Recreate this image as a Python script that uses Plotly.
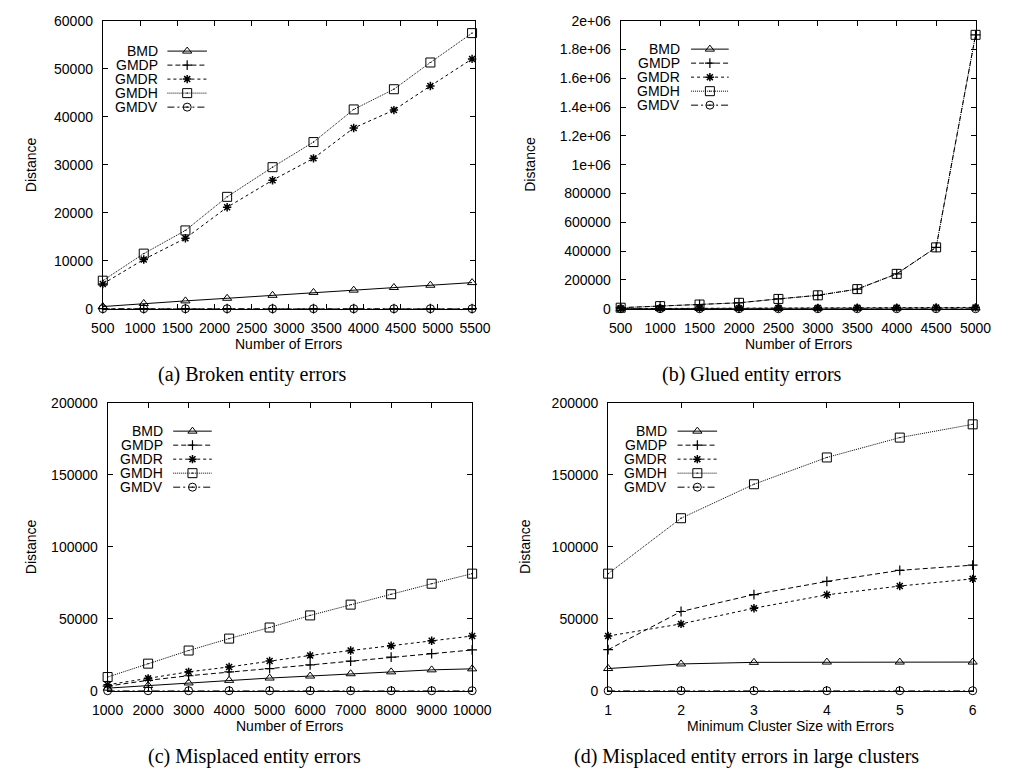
import plotly.graph_objects as go

W, H = 1011, 781

series_names = ["BMD", "GMDP", "GMDR", "GMDH", "GMDV"]

# (a) Broken entity errors
a_x = [500, 1050, 1610, 2170, 2780, 3330, 3870, 4410, 4900, 5460]
a_bmd = [450, 1090, 1630, 2170, 2790, 3400, 3870, 4420, 4890, 5440]
a_gmdp = [0, 0, 0, 0, 0, 0, 0, 0, 0, 0]
a_gmdr = [5160, 10260, 14680, 21130, 26770, 31330, 37640, 41380, 46410, 52050]
a_gmdh = [5840, 11480, 16310, 23310, 29490, 34720, 41520, 45730, 51300, 57420]
a_gmdv = [0, 0, 0, 0, 0, 0, 0, 0, 0, 0]

# (b) Glued entity errors
b_x = [500, 1000, 1500, 2000, 2500, 3000, 3500, 4000, 4500, 5000]
b_bmd = [500, 1000, 1500, 2000, 2500, 3000, 3500, 4000, 4500, 5000]
b_gmdp = [7000, 18000, 29000, 41000, 68000, 93000, 136000, 242000, 426000, 1902000]
b_gmdr = [800, 1700, 2600, 3500, 4500, 5300, 6200, 7300, 8100, 9100]
b_gmdh = [7000, 18000, 29000, 41000, 68000, 93000, 136000, 242000, 426000, 1902000]
b_gmdv = [0, 0, 0, 0, 0, 0, 0, 0, 0, 0]

# (c) Misplaced entity errors
c_x = [1000, 2000, 3000, 4000, 5000, 6000, 7000, 8000, 9000, 10000]
c_bmd = [1800, 3600, 5400, 7200, 8800, 10200, 11800, 13100, 14500, 15200]
c_gmdp = [3200, 7200, 10400, 13100, 15400, 17900, 20600, 23300, 25800, 28300]
c_gmdr = [4100, 8600, 13100, 16500, 20600, 24500, 27900, 31300, 34700, 38000]
c_gmdh = [9500, 18800, 27900, 36200, 43900, 52300, 59800, 67000, 74300, 81300]
c_gmdv = [0, 0, 0, 0, 0, 0, 0, 0, 0, 0]

# (d) Misplaced entity errors in large clusters
d_x = [1, 2, 3, 4, 5, 6]
d_bmd = [15400, 18600, 19700, 19900, 19900, 19900]
d_gmdp = [28500, 55000, 66800, 75900, 83600, 87200]
d_gmdr = [38000, 46400, 57300, 66600, 72700, 77700]
d_gmdh = [81300, 119800, 143400, 162000, 175800, 185000]
d_gmdv = [0, 0, 0, 0, 0, 0]

# tick labels
a_xticks = [500, 1000, 1500, 2000, 2500, 3000, 3500, 4000, 4500, 5000, 5500]
a_yticks = [0, 10000, 20000, 30000, 40000, 50000, 60000]
b_xticks = [500, 1000, 1500, 2000, 2500, 3000, 3500, 4000, 4500, 5000]
b_yticks = [0, 200000, 400000, 600000, 800000, 1000000, 1200000, 1400000,
            1600000, 1800000, 2000000]
b_yticktext = ["0", "200000", "400000", "600000", "800000", "1e+06", "1.2e+06",
               "1.4e+06", "1.6e+06", "1.8e+06", "2e+06"]
c_xticks = [1000, 2000, 3000, 4000, 5000, 6000, 7000, 8000, 9000, 10000]
c_yticks = [0, 50000, 100000, 150000, 200000]
d_xticks = [1, 2, 3, 4, 5, 6]
d_yticks = [0, 50000, 100000, 150000, 200000]

captions = ["(a) Broken entity errors", "(b) Glued entity errors",
            "(c) Misplaced entity errors",
            "(d) Misplaced entity errors in large clusters"]
xtitles = ["Number of Errors", "Number of Errors", "Number of Errors",
           "Minimum Cluster Size with Errors"]

# styles
styles = {
    "BMD": dict(dash="solid", symbol="triangle-up-open", size=8, lw=1),
    "GMDP": dict(dash="5px,3px", symbol="cross-thin-open", size=7, lw=1.2),
    "GMDR": dict(dash="3px,3px", symbol="asterisk-open", size=7, lw=1.5),
    "GMDH": dict(dash="1px,1px", symbol="square-open-dot", size=9, lw=1),
    "GMDV": dict(dash="7px,3px,2px,3px", symbol="circle-open-dot", size=8, lw=1),
}

SANS = "Liberation Sans, Arial, sans-serif"
SERIF = "Liberation Serif, Times New Roman, serif"

# pixel boxes for plot areas: (left, right, top, bottom)
boxes = [(90, 476, 13, 307), (627, 995, 13, 307),
         (95, 473, 403, 697), (614, 992, 403, 697)]


def fx(p):
    return p / W


def fy(p):
    return 1 - p / H


panels = [
    (a_x, [a_bmd, a_gmdp, a_gmdr, a_gmdh, a_gmdv], [500, 5500], [0, 60000],
     a_xticks, None, a_yticks, None),
    (b_x, [b_bmd, b_gmdp, b_gmdr, b_gmdh, b_gmdv], [500, 5000], [0, 2000000],
     b_xticks, None, b_yticks, b_yticktext),
    (c_x, [c_bmd, c_gmdp, c_gmdr, c_gmdh, c_gmdv], [1000, 10000], [0, 200000],
     c_xticks, None, c_yticks, None),
    (d_x, [d_bmd, d_gmdp, d_gmdr, d_gmdh, d_gmdv], [1, 6], [0, 200000],
     d_xticks, None, d_yticks, None),
]

fig = go.Figure()
layout = dict()
annotations = []

for i, (xs, ys_list, xr, yr, xt, xtt, yt, ytt) in enumerate(panels):
    n = i + 1
    xa = "x" if n == 1 else f"x{n}"
    ya = "y" if n == 1 else f"y{n}"
    l, r, t, b = boxes[i]
    for name, ys in zip(series_names, ys_list):
        st = styles[name]
        fig.add_trace(go.Scatter(
            x=xs, y=ys, mode="lines+markers", name=name, showlegend=False,
            xaxis=xa, yaxis=ya, cliponaxis=False,
            line=dict(color="black", width=1, dash=st["dash"]),
            marker=dict(symbol=st["symbol"], size=st["size"], color="black",
                        line=dict(color="black", width=st["lw"])),
        ))
    axcommon = dict(showline=True, linecolor="black", linewidth=1,
                    mirror="allticks", ticks="inside", ticklen=5,
                    tickcolor="black", tickwidth=1, showgrid=False,
                    zeroline=False,
                    tickfont=dict(family=SANS, size=14, color="black"))
    xkey = "xaxis" if n == 1 else f"xaxis{n}"
    ykey = "yaxis" if n == 1 else f"yaxis{n}"
    layout[xkey] = dict(domain=[fx(l), fx(r)], range=xr, anchor=ya,
                        tickmode="array", tickvals=xt,
                        ticktext=xtt if xtt else [str(v) for v in xt],
                        ticklabelstandoff=6, **axcommon)
    layout[ykey] = dict(domain=[fy(b), fy(t)], range=yr, anchor=xa,
                        tickmode="array", tickvals=yt,
                        ticktext=ytt if ytt else [str(v) for v in yt],
                        ticklabelstandoff=6, **axcommon)

    # axis titles
    annotations.append(dict(text=xtitles[i], x=fx((l + r) / 2), y=fy(b + 36),
                            xref="paper", yref="paper", showarrow=False,
                            xanchor="center", yanchor="middle",
                            font=dict(family=SANS, size=14, color="black")))

# y titles and captions
ytitle_x = [15, 533, 15, 528]
ytitle_y = [160, 160, 550, 550]
cap_x = [245, 763, 247, 757]
cap_y = [374, 374, 764, 764]
for i in range(4):
    annotations.append(dict(text="Distance", x=fx(ytitle_x[i]), y=fy(ytitle_y[i]),
                            xref="paper", yref="paper", showarrow=False,
                            textangle=-90, xanchor="center", yanchor="middle",
                            font=dict(family=SANS, size=14, color="black")))
    annotations.append(dict(text=captions[i], x=fx(cap_x[i]), y=fy(cap_y[i]),
                            xref="paper", yref="paper", showarrow=False,
                            xanchor="center", yanchor="middle",
                            font=dict(family=SERIF, size=20, color="black")))

# gnuplot-style keys (text right-aligned, then line sample with marker)
key_text_x = [149, 691, 154, 677]
key_line_x0 = [157, 700, 163, 686]
key_line_x1 = [198, 739, 203, 727]
key_row0 = [44, 42, 432, 432]
key_row_step = 14.3

layout["xaxis5"] = dict(domain=[0, 1], range=[0, W], anchor="y5", visible=False,
                        fixedrange=True)
layout["yaxis5"] = dict(domain=[0, 1], range=[H, 0], anchor="x5", visible=False,
                        fixedrange=True)

for i in range(4):
    for k, name in enumerate(series_names):
        st = styles[name]
        yy = key_row0[i] + k * key_row_step
        annotations.append(dict(text=name, x=fx(key_text_x[i]), y=fy(yy),
                                xref="paper", yref="paper", showarrow=False,
                                xanchor="right", yanchor="middle",
                                font=dict(family=SANS, size=14, color="black")))
        fig.add_trace(go.Scatter(
            x=[key_line_x0[i], key_line_x1[i]], y=[yy, yy], mode="lines",
            xaxis="x5", yaxis="y5", showlegend=False, hoverinfo="skip",
            line=dict(color="black", width=1, dash=st["dash"])))
        fig.add_trace(go.Scatter(
            x=[(key_line_x0[i] + key_line_x1[i]) / 2], y=[yy], mode="markers",
            xaxis="x5", yaxis="y5", showlegend=False, hoverinfo="skip",
            marker=dict(symbol=st["symbol"], size=st["size"], color="black",
                        line=dict(color="black", width=st["lw"]))))

fig.update_layout(
    width=W, height=H, autosize=False,
    margin=dict(l=0, r=0, t=0, b=0),
    paper_bgcolor="white", plot_bgcolor="rgba(0,0,0,0)",
    showlegend=False,
    annotations=annotations,
    **layout,
)

fig.write_html("out.html", config={"displayModeBar": False},
               post_script="document.body.style.margin='0';")
